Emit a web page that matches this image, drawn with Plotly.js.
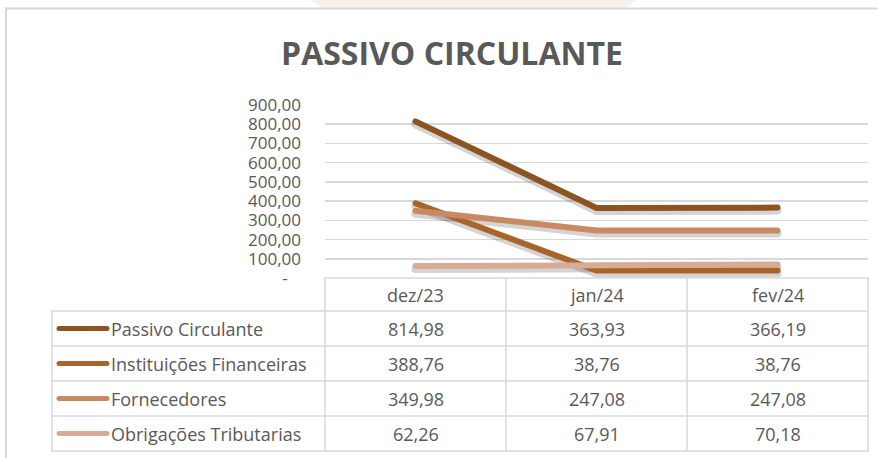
<!DOCTYPE html>
<html>
<head>
<meta charset="utf-8">
<script src="https://cdn.plot.ly/plotly-3.0.1.min.js"></script>
<style>
  html, body { margin: 0; padding: 0; background: #fff; }
  #chart { width: 878px; height: 458px; }
  .scatterlayer .js-line { stroke-linecap: round !important; }
  .shapelayer path { stroke-linecap: round !important; }
</style>
</head>
<body>
<div id="chart"></div>
<script>
// ---- data ----
const categories = ['dez/23', 'jan/24', 'fev/24'];
const seriesNames = ['Passivo Circulante', 'Instituições Financeiras', 'Fornecedores', 'Obrigações Tributarias'];
const passivoCirculante = [814.98, 363.93, 366.19];
const instituicoesFinanceiras = [388.76, 38.76, 38.76];
const fornecedores = [349.98, 247.08, 247.08];
const obrigacoesTributarias = [62.26, 67.91, 70.18];
const yTickVals = [0, 100, 200, 300, 400, 500, 600, 700, 800, 900];
const yTickText = ['-&nbsp;&nbsp;&nbsp;', '100,00', '200,00', '300,00', '400,00', '500,00', '600,00', '700,00', '800,00', '900,00'];

const seriesValues = [passivoCirculante, instituicoesFinanceiras, fornecedores, obrigacoesTributarias];
const seriesColors = ['#8c5421', '#a8652b', '#c98a63', '#d9ab95'];

// ---- geometry helpers (pixel -> paper) ----
const L = 325, R = 868, T = 105, B = 278;
const px = x => (x - L) / (R - L);
const py = y => (B - y) / (B - T);
const yMax = 900;
const shadowShift = 3 * yMax / (B - T); // 3 px drop, in data units of the shadow axis

const fmt = v => v.toFixed(2).replace('.', ',');
const txtColor = '#595959';
const gridColor = '#d9d9d9';
const fontFam = '"Open Sans", "Noto Sans", sans-serif';

// shadows on the base axis (drawn below), real lines on the overlaying axis
const shadowTraces = seriesNames.map((name, i) => ({
  type: 'scatter', mode: 'lines', name: name + ' shadow',
  x: categories, y: seriesValues[i], xaxis: 'x', yaxis: 'y',
  line: { color: 'rgba(60,60,60,0.22)', width: 8 }, hoverinfo: 'skip'
}));
const lineTraces = seriesNames.map((name, i) => ({
  type: 'scatter', mode: 'lines', name: name,
  x: categories, y: seriesValues[i], xaxis: 'x', yaxis: 'y2',
  line: { color: seriesColors[i], width: 6 }, hoverinfo: 'skip'
}));

const shapes = [];
const annotations = [];

// chart border & watermark
shapes.push({ type: 'path', xref: 'paper', yref: 'paper', layer: 'below',
  path: `M ${px(310)} ${py(0)} L ${px(636)} ${py(0)} L ${px(626)} ${py(8)} L ${px(323)} ${py(8)} Z`,
  fillcolor: '#f8f1eb', line: { width: 0 } });
shapes.push({ type: 'line', xref: 'paper', yref: 'paper', x0: px(6), x1: px(880), y0: py(8.5), y1: py(8.5), line: { color: gridColor, width: 2 } });
shapes.push({ type: 'line', xref: 'paper', yref: 'paper', x0: px(6), x1: px(6), y0: py(8), y1: py(460), line: { color: gridColor, width: 2 } });

// table grid
const rowTops = [278, 311, 346, 381, 416, 451];
const colX = [325, 506, 687, 868];
const tblLine = { color: gridColor, width: 1.5 };
shapes.push({ type: 'line', xref: 'paper', yref: 'paper', x0: px(325), x1: px(868), y0: py(278), y1: py(278), line: tblLine });
for (let r = 1; r < rowTops.length; r++) {
  shapes.push({ type: 'line', xref: 'paper', yref: 'paper', x0: px(52), x1: px(868), y0: py(rowTops[r]), y1: py(rowTops[r]), line: tblLine });
}
colX.forEach(cx => {
  shapes.push({ type: 'line', xref: 'paper', yref: 'paper', x0: px(cx), x1: px(cx), y0: py(278), y1: py(451), line: tblLine });
});
shapes.push({ type: 'line', xref: 'paper', yref: 'paper', x0: px(52), x1: px(52), y0: py(311), y1: py(451), line: tblLine });

// header labels
categories.forEach((c, j) => {
  annotations.push({ xref: 'x', yref: 'paper', x: j, y: py((rowTops[0] + rowTops[1]) / 2),
    text: c, showarrow: false, xanchor: 'center', yanchor: 'middle',
    font: { family: fontFam, size: 18, color: txtColor } });
});
// rows
seriesNames.forEach((name, i) => {
  const cy = (rowTops[i + 1] + rowTops[i + 2]) / 2;
  shapes.push({ type: 'line', xref: 'paper', yref: 'paper', x0: px(59), x1: px(107), y0: py(cy), y1: py(cy),
    line: { color: seriesColors[i], width: 5 } });
  annotations.push({ xref: 'paper', yref: 'paper', x: px(109), y: py(cy), text: name, showarrow: false,
    xanchor: 'left', yanchor: 'middle', font: { family: fontFam, size: 18, color: txtColor } });
  seriesValues[i].forEach((v, j) => {
    annotations.push({ xref: 'x', yref: 'paper', x: j, y: py(cy), text: fmt(v), showarrow: false,
      xanchor: 'center', yanchor: 'middle', font: { family: fontFam, size: 18, color: txtColor } });
  });
});

const layout = {
  width: 878, height: 458,
  margin: { l: L, r: 878 - R, t: T, b: 458 - B, pad: 0 },
  paper_bgcolor: '#ffffff', plot_bgcolor: '#ffffff',
  showlegend: false,
  title: { text: '<b>PASSIVO CIRCULANTE</b>', xref: 'paper', x: px(452), xanchor: 'center',
    yref: 'container', y: 1 - 54 / 458, yanchor: 'middle',
    font: { family: fontFam, size: 32, color: txtColor } },
  xaxis: { type: 'category', range: [-0.5, 2.5], showticklabels: false, showgrid: false, zeroline: false,
    showline: false, ticks: '', fixedrange: true },
  yaxis: { range: [shadowShift, yMax + shadowShift], showticklabels: false, showgrid: false,
    zeroline: false, showline: false, ticks: '', fixedrange: true },
  yaxis2: { overlaying: 'y', side: 'left', range: [0, yMax], tickvals: yTickVals, ticktext: yTickText,
    showgrid: true, gridcolor: gridColor, gridwidth: 1.5, zeroline: false, showline: false, ticks: '',
    ticklabelstandoff: 23, tickfont: { family: fontFam, size: 17, color: txtColor }, fixedrange: true },
  shapes: shapes,
  annotations: annotations
};

Plotly.newPlot('chart', shadowTraces.concat(lineTraces), layout, { displayModeBar: false, staticPlot: true });
</script>
</body>
</html>
